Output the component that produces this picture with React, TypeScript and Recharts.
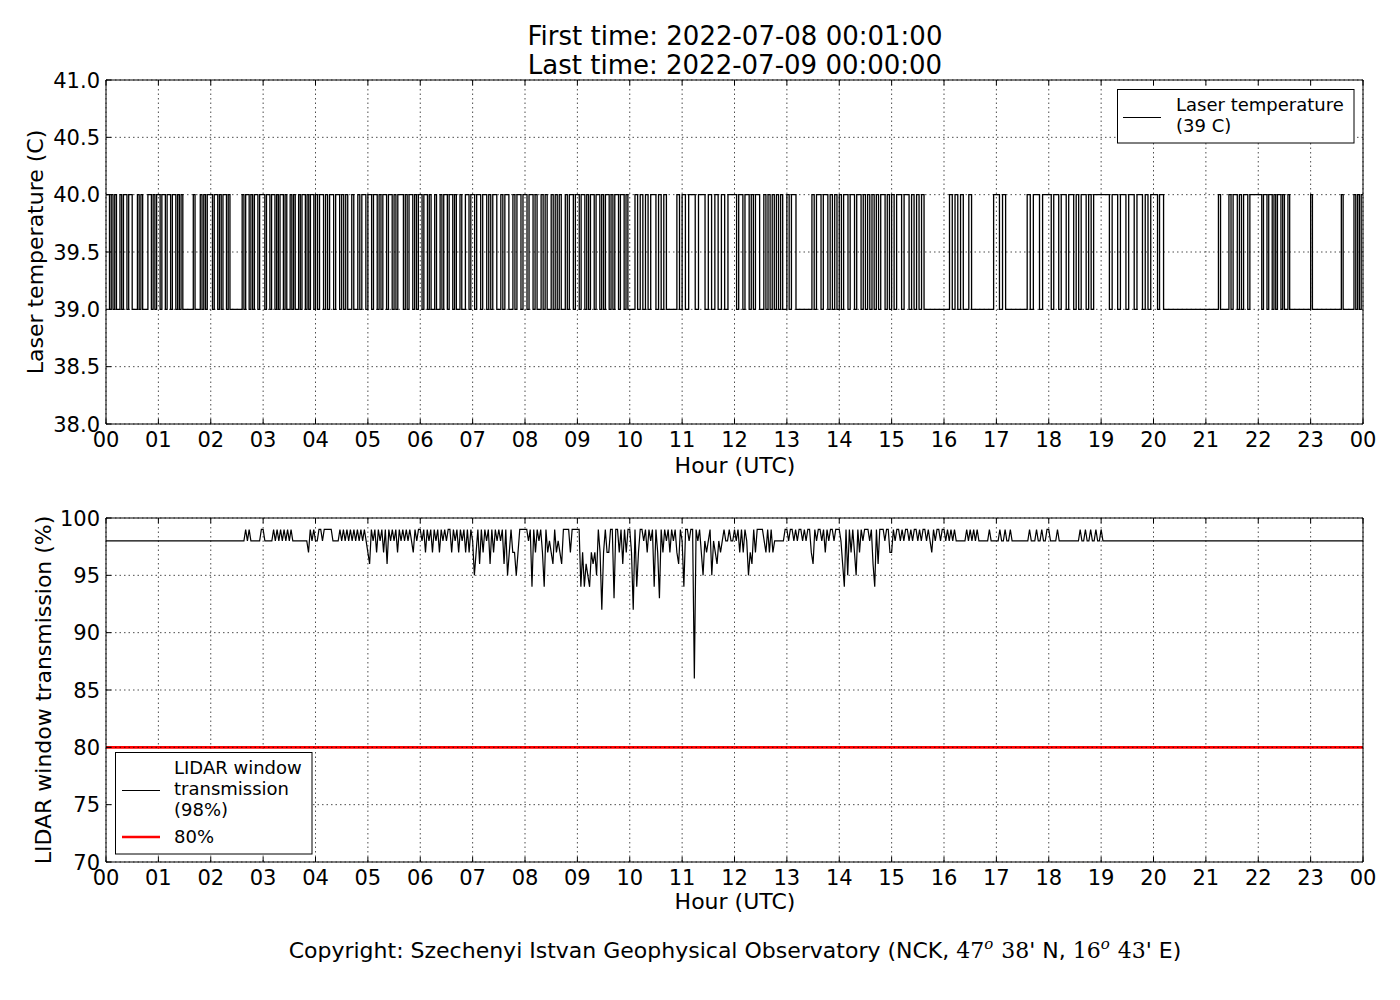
import { CartesianGrid, Line, LineChart, ReferenceLine, XAxis, YAxis } from "recharts";

const FONT = "'DejaVu Sans', sans-serif";
const SERIF = "'DejaVu Serif', serif";

const HOUR_TICKS = [0, 1, 2, 3, 4, 5, 6, 7, 8, 9, 10, 11, 12, 13, 14, 15, 16, 17, 18, 19, 20, 21, 22, 23, 24];
const TEMP_TICKS = [38, 38.5, 39, 39.5, 40, 40.5, 41];
const TRANS_TICKS = [70, 75, 80, 85, 90, 95, 100];

// laser temperature, one string per hour, ~2 min per char: "1" = 40.0 C, "0" = 39.0 C
const TEMP_HOURS = [
  "110101001011011000101000110101",
  "101101101101010000001000101011",
  "101101011010000000101101011011",
  "1011011010110100101001011010110",
  "10110101101101010010010110",
  "1101101011011010111010110101",
  "10110100100101101101001001101",
  "10110110101100101100101101",
  "10110100101001010100101101",
  "1011010110110101101011011010",
  "00101010110101000010",
  "1011011010101011",
  "1011011010110010101010100",
  "10110000000101101101010",
  "101101101101010101011010",
  "101101101010100000000",
  "0010101001000000001",
  "10100000001011011",
  "101101101101011010111",
  "1110110110110110101",
  "11011000000000000000000000",
  "0000001000010110101101111",
  "110110110101101001000000000000",
  "10000000000000000100000010101",
];
const TEMP_LEVEL: Record<string, number> = { "0": 39, "1": 40 };

// window transmission (%), one string per hour, ~2 min per char
const TRANS_HOURS = [
  "8",
  "8",
  "888888888888888888889898888889",
  "988888989898989898888888887989",
  "889989999988889898989898989898",
  "769897989796989897989898987989",
  "989798979897989899798979897979",
  "857969798969798989695797757999",
  "998949798974978769787699997999",
  "994746547675972797799399796979",
  "972947998979894973979897989769",
  "8499899x9897587895876878988988",
  "989797985769799998797978888889",
  "989989899898997698998979899899",
  "9864959797597989998964969998997",
  "798998989989899898998987989989",
  "989898988888898989898888889888",
  "889889889888888888898889889889",
  "988889888888888888988988988988",
  "98888888888888888888888888888",
  "8",
  "8",
  "8",
  "8",
];
const TRANS_LEVEL: Record<string, number> = {
  "9": 99, "8": 98, "7": 97, "6": 96, "5": 95, "4": 94, "3": 93, "2": 92, x: 86,
};
const THRESHOLD = 80;

function toSeries(hours: string[], level: Record<string, number>) {
  const out: { t: number; v: number }[] = [];
  hours.forEach((codes, h) => {
    for (let i = 0; i < codes.length; i++) {
      out.push({ t: h + i / codes.length, v: level[codes[i]] });
    }
  });
  const last = hours[hours.length - 1];
  out.push({ t: 24, v: level[last[last.length - 1]] });
  return out;
}

const tempData = toSeries(TEMP_HOURS, TEMP_LEVEL);
const transData = toSeries(TRANS_HOURS, TRANS_LEVEL);

const hourLabel = (v: number) => String(v % 24).padStart(2, "0");

const BottomTick = ({ x, y, payload }: any) => (
  <g>
    <line x1={x} x2={x} y1={y} y2={y - 5} stroke="#000" />
    <text x={x} y={y + 23} textAnchor="middle" fontSize={21} fontFamily={FONT} fill="#000">
      {hourLabel(payload.value)}
    </text>
  </g>
);
const TopTick = ({ x, y }: any) => <line x1={x} x2={x} y1={y} y2={y + 5} stroke="#000" />;
const RightTick = ({ x, y }: any) => <line x1={x} x2={x - 5} y1={y} y2={y} stroke="#000" />;
const leftTick = (fmt: (v: number) => string) => ({ x, y, payload }: any) => (
  <g>
    <line x1={x} x2={x + 5} y1={y} y2={y} stroke="#000" />
    <text x={x - 6} y={y} dy="0.36em" textAnchor="end" fontSize={21} fontFamily={FONT} fill="#000">
      {fmt(payload.value)}
    </text>
  </g>
);

// axes are 1px thick so that recharts still draws them; the margins make up for it
function frame(yDomain: number[], yTicks: number[], fmt: (v: number) => string) {
  return [
    <CartesianGrid key="g" stroke="#000" strokeWidth={0.7} strokeDasharray="1.5 3" />,
    <XAxis key="xb" dataKey="t" type="number" domain={[0, 24]} ticks={HOUR_TICKS} interval={0}
      height={1} tickSize={0} tickMargin={0} tick={BottomTick} axisLine={{ stroke: "#000" }} />,
    <XAxis key="xt" xAxisId="top" orientation="top" dataKey="t" type="number" domain={[0, 24]}
      ticks={HOUR_TICKS} interval={0} height={1} tickSize={0} tickMargin={0} tick={TopTick}
      axisLine={{ stroke: "#000" }} />,
    <YAxis key="yl" type="number" domain={yDomain} ticks={yTicks} interval={0} width={1}
      tickSize={0} tickMargin={0} tick={leftTick(fmt)} axisLine={{ stroke: "#000" }} />,
    <YAxis key="yr" yAxisId="right" orientation="right" type="number" domain={yDomain} ticks={yTicks}
      interval={0} width={1} tickSize={0} tickMargin={0} tick={RightTick} axisLine={{ stroke: "#000" }} />,
  ];
}

export default function App() {
  return (
    <div style={{ position: "absolute", left: 0, top: 0, width: 1400, height: 1000, background: "#fff" }}>
      <div style={{ position: "absolute", left: 0, top: 0 }}>
        <LineChart width={1400} height={480} data={tempData}
          margin={{ top: 79, right: 36, bottom: 55, left: 105 }}>
          {frame([38, 41], TEMP_TICKS, (v) => v.toFixed(1))}
          <Line dataKey="v" type="stepAfter" stroke="#000" strokeWidth={1.3} dot={false} isAnimationActive={false} />
        </LineChart>
      </div>
      <div style={{ position: "absolute", left: 0, top: 480 }}>
        <LineChart width={1400} height={440} data={transData}
          margin={{ top: 37, right: 36, bottom: 57, left: 105 }}>
          {frame([70, 100], TRANS_TICKS, (v) => String(v))}
          <Line dataKey="v" type="linear" stroke="#000" strokeWidth={1.2} dot={false} isAnimationActive={false} />
          <ReferenceLine y={THRESHOLD} stroke="#ff0000" strokeWidth={2.6} />
          <ReferenceLine y={THRESHOLD} stroke="#000" strokeWidth={0.7} strokeDasharray="1.5 3" />
        </LineChart>
      </div>
      <svg width={1400} height={1000} style={{ position: "absolute", left: 0, top: 0, pointerEvents: "none" }}
        fontFamily={FONT} fill="#000">
        <text x={735} y={45} textAnchor="middle" fontSize={26}>First time: 2022-07-08 00:01:00</text>
        <text x={735} y={74} textAnchor="middle" fontSize={26}>Last time: 2022-07-09 00:00:00</text>

        <text x={735} y={473} textAnchor="middle" fontSize={22}>Hour (UTC)</text>
        <text x={735} y={909} textAnchor="middle" fontSize={22}>Hour (UTC)</text>
        <text transform="translate(43,252) rotate(-90)" textAnchor="middle" fontSize={22}>Laser temperature (C)</text>
        <text transform="translate(51,690) rotate(-90)" textAnchor="middle" fontSize={22}>LIDAR window transmission (%)</text>

        <rect x={1117.5} y={89.5} width={236.5} height={53.5} fill="#fff" stroke="#000" />
        <line x1={1123} x2={1161} y1={117.5} y2={117.5} stroke="#000" strokeWidth={1} />
        <text x={1176} y={111} fontSize={18}>Laser temperature</text>
        <text x={1176} y={132} fontSize={18}>(39 C)</text>

        <rect x={115.5} y={752.5} width={196.5} height={101.5} fill="#fff" stroke="#000" />
        <line x1={122} x2={160} y1={790.5} y2={790.5} stroke="#000" strokeWidth={1} />
        <text x={174} y={774} fontSize={18}>LIDAR window</text>
        <text x={174} y={795} fontSize={18}>transmission</text>
        <text x={174} y={816} fontSize={18}>(98%)</text>
        <line x1={122} x2={160} y1={837} y2={837} stroke="#ff0000" strokeWidth={2.6} />
        <text x={174} y={843} fontSize={18}>80%</text>

        <text x={735} y={958} textAnchor="middle" fontSize={22}>
          Copyright: Szechenyi Istvan Geophysical Observatory (NCK,{" "}
          <tspan fontFamily={SERIF}>47</tspan>
          <tspan fontFamily={SERIF} fontStyle="italic" fontSize={15} dy={-9}>o</tspan>
          <tspan fontFamily={SERIF} dy={9} dx={8}>38</tspan>' N,{" "}
          <tspan fontFamily={SERIF}>16</tspan>
          <tspan fontFamily={SERIF} fontStyle="italic" fontSize={15} dy={-9}>o</tspan>
          <tspan fontFamily={SERIF} dy={9} dx={8}>43</tspan>' E)
        </text>
      </svg>
    </div>
  );
}
